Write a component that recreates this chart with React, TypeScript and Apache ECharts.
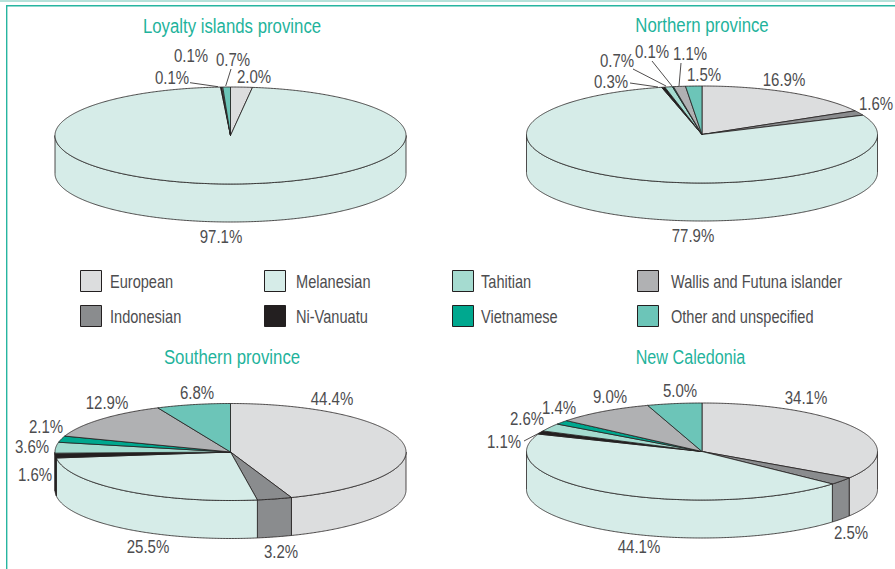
import React, { useEffect, useRef } from "react";
import * as echarts from "echarts";

const categories = ["European", "Indonesian", "Melanesian", "Ni-Vanuatu", "Tahitian", "Vietnamese", "Wallis and Futuna islander", "Other and unspecified"];
const pieTitles = ["Loyalty islands province", "Northern province", "Southern province", "New Caledonia"];

// Share of each category, same order as `categories`
const loyalty = [2.0, 0, 97.1, 0.1, 0, 0, 0.1, 0.7];
const northern = [16.9, 1.6, 77.9, 0.3, 0.7, 0.1, 1.1, 1.5];
const southern = [44.4, 3.2, 25.5, 1.6, 3.6, 2.1, 12.9, 6.8];
const newCaledonia = [34.1, 2.5, 44.1, 1.1, 2.6, 1.4, 9.0, 5.0];
const pieValues = [loyalty, northern, southern, newCaledonia];

// ---- styling and layout, separate from the data ----
const FONT = '"Liberation Sans", Arial, sans-serif';
const NARROW = 0.81;
const TEXT = "#4d4d4f";
const EDGE = "#231f20";
const TEAL = "#1fb39c";
const colors = ["#dcddde", "#8a8c8e", "#d6ece8", "#231f20", "#a5dbd0", "#00a88f", "#b0b1b3", "#6cc5b8"];
const centers = [[230.5, 135.5], [702, 134.5], [230.5, 452], [702, 451.5]];
const titleCenters = [[232, 26], [702, 25], [232, 357], [690.5, 357]];
const titleScale = [0.8, 0.8, 0.8, 0.77];
const RX = 175.5, RY = 48.5, DEPTH = 38;

type LabelSpot = { at: [number, number]; leader?: [number, number, number, number] };
const labelSpots: Record<number, LabelSpot>[] = [
  {
    0: { at: [254, 76.5] }, 2: { at: [221, 236.5] },
    3: { at: [191, 55.5] },
    6: { at: [172, 77.5], leader: [190, 82.7, 218, 86.7] },
    7: { at: [233, 59.5], leader: [231, 69, 225.7, 86] },
  },
  {
    0: { at: [784, 79.5] }, 1: { at: [876, 103.5] }, 2: { at: [693, 235.5] },
    3: { at: [611, 81.5], leader: [630, 83, 658, 87] },
    4: { at: [617, 60.5], leader: [633, 69, 666, 86] },
    5: { at: [652, 51.5], leader: [652, 61, 672, 86] },
    6: { at: [690, 53.5], leader: [681, 63, 679, 86] },
    7: { at: [704, 74.5] },
  },
  {
    0: { at: [332, 398.5] }, 1: { at: [281, 551.5] }, 2: { at: [148, 546.5] },
    3: { at: [35, 474.5] }, 4: { at: [32, 446.5] }, 5: { at: [46, 426.5] },
    6: { at: [107, 402.5] }, 7: { at: [197, 392.5] },
  },
  {
    0: { at: [806, 397.5] }, 1: { at: [851, 532.5] }, 2: { at: [639, 546.5] },
    3: { at: [504, 441.5], leader: [524, 441, 543, 431] },
    4: { at: [527, 418.5] }, 5: { at: [559, 407.5] },
    6: { at: [610, 396.5] }, 7: { at: [680, 390.5] },
  },
];

const legendSpots = [
  { box: [80, 270], text: 110 }, { box: [80, 305], text: 110 },
  { box: [264, 270], text: 296 }, { box: [264, 305], text: 296 },
  { box: [452, 270], text: 481 }, { box: [452, 305], text: 481 },
  { box: [637, 270], text: 671 }, { box: [637, 305], text: 671 },
];

function arc(pie: number, a0: number, a1: number, dy: number): number[][] {
  const [cx, cy] = centers[pie];
  const n = Math.max(1, Math.ceil((a1 - a0) / 0.5));
  const pts: number[][] = [];
  for (let i = 0; i <= n; i++) {
    const t = ((a0 + ((a1 - a0) * i) / n) * Math.PI) / 180;
    pts.push([cx + RX * Math.sin(t), cy - RY * Math.cos(t) + dy]);
  }
  return pts;
}

function renderSlice(params: any, api: any) {
  const cat = params.seriesIndex as number;
  const pie = api.value(0) as number;
  const value = api.value(1) as number;
  if (!value) return null;
  const vals = pieValues[pie];
  const total = vals.reduce((a, b) => a + b, 0);
  const before = vals.slice(0, cat).reduce((a, b) => a + b, 0);
  const a0 = (before / total) * 360;
  const a1 = ((before + value) / total) * 360;
  const style = { fill: colors[cat], stroke: EDGE, lineWidth: 0.8, lineJoin: "round" };
  const children: any[] = [];
  const lo = Math.max(a0, 90), hi = Math.min(a1, 270);
  if (hi > lo) {
    children.push({
      type: "polygon",
      shape: { points: [...arc(pie, lo, hi, 0), ...arc(pie, lo, hi, DEPTH).reverse()] },
      style,
    });
  }
  children.push({
    type: "polygon",
    shape: { points: [centers[pie], ...arc(pie, a0, a1, 0)] },
    style,
  });
  const spot = labelSpots[pie][cat];
  if (spot) {
    if (spot.leader) {
      const [x1, y1, x2, y2] = spot.leader;
      children.push({ type: "line", shape: { x1, y1, x2, y2 }, style: { stroke: EDGE, lineWidth: 0.8 } });
    }
    children.push({
      type: "text",
      x: spot.at[0],
      y: spot.at[1],
      scaleX: 0.79,
      style: {
        x: 0, y: 0, text: value.toFixed(1) + "%",
        fill: TEXT, font: `19px ${FONT}`, align: "center", verticalAlign: "middle",
      },
    });
  }
  return { type: "group", children };
}

const frame = [
  { type: "rect", shape: { x: 0, y: 0, width: 895, height: 2 }, style: { fill: "#b5e2da" }, silent: true },
  { type: "rect", shape: { x: 6, y: 5, width: 889, height: 1.4 }, style: { fill: "#27b5a0" }, silent: true },
  { type: "rect", shape: { x: 6, y: 5, width: 1.4, height: 564 }, style: { fill: "#27b5a0" }, silent: true },
];

const titleTexts = pieTitles.map((text, i) => ({
  type: "text",
  x: titleCenters[i][0],
  y: titleCenters[i][1],
  scaleX: titleScale[i],
  silent: true,
  style: { x: 0, y: 0, text, fill: TEAL, font: `21px ${FONT}`, align: "center", verticalAlign: "middle" },
}));

const legendMarks = categories.flatMap((name, i) => {
  const spot = legendSpots[i];
  return [
    {
      type: "rect",
      silent: true,
      shape: { x: spot.box[0] + 0.5, y: spot.box[1] + 0.5, width: 21, height: 21 },
      style: { fill: colors[i], stroke: EDGE, lineWidth: 1 },
    },
    {
      type: "text",
      x: spot.text,
      y: spot.box[1] + 11.5,
      scaleX: NARROW,
      silent: true,
      style: { x: 0, y: 0, text: name, fill: TEXT, font: `18px ${FONT}`, align: "left", verticalAlign: "middle" },
    },
  ];
});

const option: any = {
  animation: false,
  backgroundColor: "#ffffff",
  graphic: [...frame, ...titleTexts, ...legendMarks],
  series: categories.map((name, cat) => ({
    type: "custom",
    name,
    coordinateSystem: "none",
    itemStyle: { color: colors[cat] },
    silent: true,
    renderItem: renderSlice,
    data: pieValues.map((vals, pie) => [pie, vals[cat]]),
  })),
};

export default function App() {
  const ref = useRef<HTMLDivElement>(null);
  useEffect(() => {
    const chart = echarts.init(ref.current!, undefined, { renderer: "svg" });
    chart.setOption(option);
    return () => chart.dispose();
  }, []);
  return <div ref={ref} style={{ position: "absolute", left: 0, top: 0, width: 895, height: 569 }} />;
}
